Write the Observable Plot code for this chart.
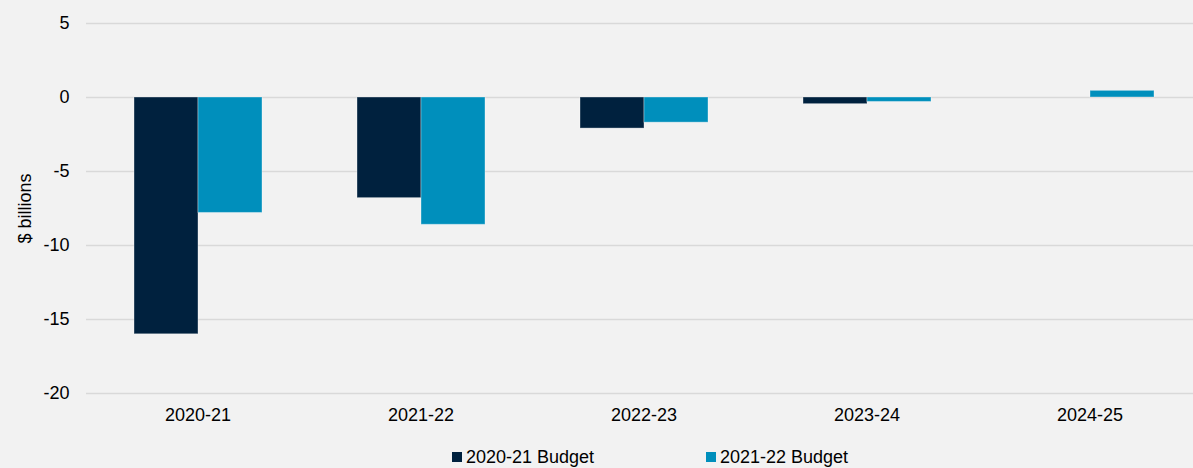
<!DOCTYPE html>
<html><head><meta charset="utf-8">
<script src="https://cdn.jsdelivr.net/npm/d3@7"></script>
<script src="https://cdn.jsdelivr.net/npm/@observablehq/plot@0.6"></script>
<style>
html,body{margin:0;padding:0;background:#f2f2f2;}
body{width:1193px;height:468px;overflow:hidden;font-family:"Liberation Sans",Arial,sans-serif;}
#legend{position:relative;height:30px;font-size:18px;color:#000;}
.item{position:absolute;top:9px;display:flex;align-items:center;white-space:nowrap;line-height:20px;}
.sw{width:10px;height:10px;margin-right:4px;}
</style></head>
<body>
<div id="chart"></div>
<div id="legend"></div>
<script>
const years = ["2020-21","2021-22","2022-23","2023-24","2024-25"];
const series = ["2020-21 Budget","2021-22 Budget"];
const budget2020 = [-16.0, -6.8, -2.1, -0.45, null];
const budget2021 = [-7.8, -8.6, -1.7, -0.3, 0.45];
const colors = ["#00213e", "#008fbc"];
const yTicks = [-20,-15,-10,-5,0,5];

const data = [];
years.forEach((y,i)=>{
  if (budget2020[i] != null) data.push({year:y, series:series[0], value:budget2020[i]});
  if (budget2021[i] != null) data.push({year:y, series:series[1], value:budget2021[i]});
});

const chart = Plot.plot({
  width: 1193, height: 438,
  marginLeft: 86, marginRight: 0, marginTop: 23, marginBottom: 45,
  style: {background: "#f2f2f2", fontSize: "18px", fontFamily: "'Liberation Sans', Arial, sans-serif", color: "#000"},
  fx: {domain: years, padding: 0, label: null, range: [85, 1202]},
  x: {domain: series, paddingInner: 0, paddingOuter: 0.74, axis: null},
  y: {domain: [-20, 5], ticks: yTicks, label: "$ billions"},
  color: {domain: series, range: colors},
  marks: [
    Plot.gridY(yTicks, {stroke: "#d9d9d9", strokeOpacity: 1, strokeWidth: 1.5}),
    Plot.axisY({ticks: yTicks, tickSize: 0, tickPadding: 17, tickFormat: d => d, label: "$ billions", labelAnchor: "center", labelArrow: "none", labelOffset: 68, fontSize: 18}),
    Plot.axisFx({anchor: "bottom", tickSize: 0, tickPadding: 15, label: null, fontSize: 18}),
    Plot.barY(data, {fx: "year", x: "series", y: "value", fill: "series", stroke: "#ffffff", strokeOpacity: 0.35, strokeWidth: 1})
  ]
});
document.getElementById("chart").appendChild(chart);

const lg = document.getElementById("legend");
const lefts = [452, 706];
series.forEach((s,i)=>{
  const d = document.createElement("div");
  d.className = "item";
  d.style.left = lefts[i] + "px";
  d.innerHTML = `<span class="sw" style="background:${colors[i]}"></span><span>${s}</span>`;
  lg.appendChild(d);
});
</script>
</body></html>
